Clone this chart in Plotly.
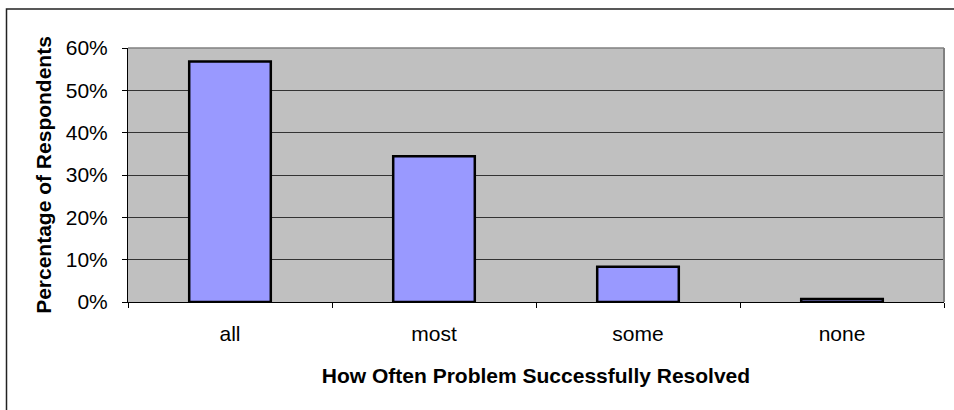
import plotly.graph_objects as go

# Survey results: how often problems were successfully resolved
categories = ["all", "most", "some", "none"]
shares = [0.568, 0.344, 0.083, 0.007]
y_ticks = [0, 0.1, 0.2, 0.3, 0.4, 0.5, 0.6]
y_tick_labels = ["0%", "10%", "20%", "30%", "40%", "50%", "60%"]

W, H = 954, 410
ML, MR, MT, MB = 128, 10, 48, 108
plot_w = W - ML - MR
plot_h = H - MT - MB


def px_to_paper_x(px):
    return (px - ML) / plot_w


def px_to_paper_y(py):
    return (H - MB - py) / plot_h


font_family = "Liberation Sans, Arial, sans-serif"
FS = 21

fig = go.Figure(
    go.Bar(
        x=categories,
        y=shares,
        marker=dict(color="#9999FF", line=dict(color="#000000", width=2.5)),
        hoverinfo="x+y",
    )
)

fig.update_layout(
    width=W,
    height=H,
    margin=dict(l=ML, r=MR, t=MT, b=MB),
    paper_bgcolor="#FFFFFF",
    plot_bgcolor="#C0C0C0",
    bargap=0.6,
    showlegend=False,
    font=dict(family=font_family, size=FS, color="#000000"),
    xaxis=dict(
        showline=True,
        linecolor="#000000",
        linewidth=1,
        ticks="outside",
        tickson="boundaries",
        ticklen=5,
        tickcolor="#000000",
        showgrid=False,
        tickfont=dict(size=FS),
        ticklabelstandoff=13,
        title=dict(
            text="<b>How Often Problem Successfully Resolved</b>",
            font=dict(size=FS),
            standoff=24,
        ),
    ),
    yaxis=dict(
        range=[0, 0.6],
        tickvals=y_ticks,
        ticktext=y_tick_labels,
        showline=True,
        linecolor="#000000",
        linewidth=1,
        ticks="outside",
        ticklen=5,
        tickcolor="#000000",
        showgrid=True,
        gridcolor="#333333",
        gridwidth=1,
        zeroline=False,
        tickfont=dict(size=FS),
        ticklabelstandoff=10,
        title=dict(
            text="<b>Percentage of Respondents</b>",
            font=dict(size=FS),
            standoff=8,
        ),
    ),
    shapes=[
        # plot-area frame, top and right edges
        dict(type="line", xref="paper", yref="paper", x0=0, x1=1, y0=1, y1=1,
             line=dict(color="#808080", width=1.5)),
        dict(type="line", xref="paper", yref="paper", x0=1, x1=1, y0=0, y1=1,
             line=dict(color="#808080", width=2)),
        # chart border
        dict(type="rect", xref="paper", yref="paper",
             x0=px_to_paper_x(6.5), x1=px_to_paper_x(W + 10),
             y0=px_to_paper_y(H + 10), y1=px_to_paper_y(9),
             line=dict(color="#222222", width=1.5), fillcolor="rgba(0,0,0,0)",
             layer="above"),
    ],
)

fig.write_html("out.html")
